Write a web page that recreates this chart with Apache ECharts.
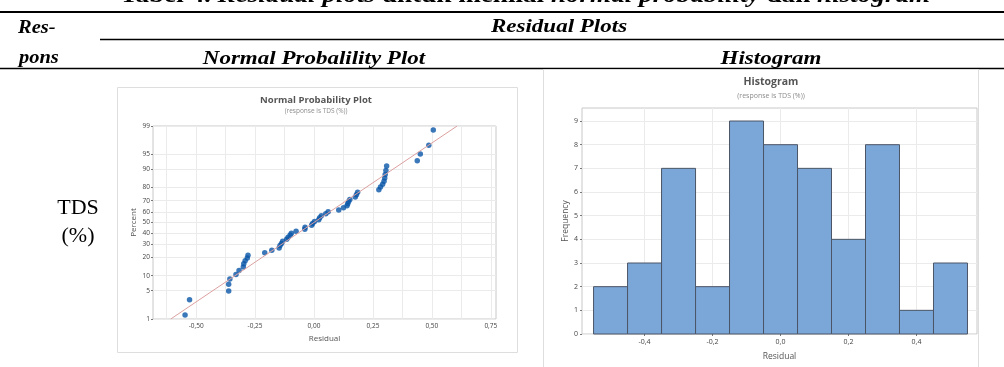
<!DOCTYPE html>
<html>
<head>
<meta charset="utf-8">
<script src="https://cdn.jsdelivr.net/npm/echarts@6/dist/echarts.min.js"></script>
<style>
html,body{margin:0;padding:0;background:#fff;}
#c{width:1004px;height:367px;}
</style>
</head>
<body>
<div id="c"></div>
<script>
// ---------- data ----------
// residuals (sorted)
var residuals = [
  -0.547, -0.528,
  -0.362, -0.362, -0.357,
  -0.331, -0.318, -0.300, -0.298, -0.292, -0.283, -0.280,
  -0.209, -0.179,
  -0.148, -0.144, -0.138, -0.133, -0.116, -0.110, -0.101, -0.096, -0.076,
  -0.039, -0.038, -0.010, -0.006, 0.002, 0.020, 0.024, 0.031,
  0.050, 0.060, 0.105, 0.125, 0.140, 0.143, 0.147,
  0.152, 0.175, 0.180, 0.185,
  0.275, 0.282, 0.291, 0.297, 0.300, 0.302, 0.305, 0.308,
  0.438,
  0.451, 0.487, 0.506
];
var percentTicks = [1, 5, 10, 20, 30, 40, 50, 60, 70, 80, 90, 95, 99];
var npXLabels = [-0.5, -0.25, 0, 0.25, 0.5, 0.75];
var npXGrid = [-0.625, -0.5, -0.375, -0.25, -0.125, 0, 0.125, 0.25, 0.375, 0.5, 0.625, 0.75];

var binEdges = [-0.55, -0.45, -0.35, -0.25, -0.15, -0.05, 0.05, 0.15, 0.25, 0.35, 0.45, 0.55];
var frequency = [2, 3, 7, 2, 9, 8, 7, 4, 8, 1, 3];
var histXTicks = [-0.4, -0.2, 0, 0.2, 0.4];
var histYTicks = [0, 1, 2, 3, 4, 5, 6, 7, 8, 9];

// ---------- helpers ----------
function probit(p) {
  var a = [-3.969683028665376e+01, 2.209460984245205e+02, -2.759285104469687e+02, 1.383577518672690e+02, -3.066479806614716e+01, 2.506628277459239e+00];
  var b = [-5.447609879822406e+01, 1.615858368580409e+02, -1.556989798598866e+02, 6.680131188771972e+01, -1.328068155288572e+01];
  var c = [-7.784894002430293e-03, -3.223964580411365e-01, -2.400758277161838e+00, -2.549732539343734e+00, 4.374664141464968e+00, 2.938163982698783e+00];
  var d = [7.784695709041462e-03, 3.224671290700398e-01, 2.445134137142996e+00, 3.754408661907416e+00];
  var pl = 0.02425, q, r;
  if (p < pl) { q = Math.sqrt(-2 * Math.log(p)); return (((((c[0]*q+c[1])*q+c[2])*q+c[3])*q+c[4])*q+c[5]) / ((((d[0]*q+d[1])*q+d[2])*q+d[3])*q+1); }
  if (p > 1 - pl) { q = Math.sqrt(-2 * Math.log(1 - p)); return -(((((c[0]*q+c[1])*q+c[2])*q+c[3])*q+c[4])*q+c[5]) / ((((d[0]*q+d[1])*q+d[2])*q+d[3])*q+1); }
  q = p - 0.5; r = q * q;
  return (((((a[0]*r+a[1])*r+a[2])*r+a[3])*r+a[4])*r+a[5])*q / (((((b[0]*r+b[1])*r+b[2])*r+b[3])*r+b[4])*r+1);
}
function comma(v, d) { return v.toFixed(d).replace('.', ','); }

var n = residuals.length;
var npPoints = residuals.map(function (r, i) { return [r, probit((i + 1 - 0.3) / (n + 0.4))]; });
var mean = residuals.reduce(function (s, v) { return s + v; }, 0) / n;
var sd = Math.sqrt(residuals.reduce(function (s, v) { return s + (v - mean) * (v - mean); }, 0) / (n - 1));
var zMin = probit(percentTicks[0] / 100), zMax = probit(percentTicks[percentTicks.length - 1] / 100);
var fitLine = [[mean + sd * zMin, zMin], [mean + sd * zMax, zMax]];
var zTicks = percentTicks.map(function (p) { return probit(p / 100); });
var histData = frequency.map(function (f, i) { return [binEdges[i], binEdges[i + 1], f]; });

var UI = 'Open Sans, Noto Sans, sans-serif';
var SERIF = 'Liberation Serif, Times New Roman, serif';
var HS = 19.5, SX = 1.18;
var hdr = { fontFamily: SERIF, fontWeight: 'bold', fontStyle: 'italic', fontSize: HS, fill: '#000' };

function txt(x, y, s, style, align, sx) {
  return { type: 'text', x: x, y: y, scaleX: sx || 1, style: Object.assign({ text: s, textAlign: align || 'center', textVerticalAlign: 'middle' }, style) };
}

var chart = echarts.init(document.getElementById('c'), null, { renderer: 'canvas' });
chart.setOption({
  animation: false,
  backgroundColor: '#fff',
  graphic: { elements: [
    { type: 'text', x: 525, y: -4, scaleX: SX, style: {
      text: '{b|Tabel 4. }{bi|Residual plots}{b| untuk menilai }{bi|normal probability}{b| dan }{bi|histogram}',
      textAlign: 'center', textVerticalAlign: 'middle',
      rich: { b: { fontFamily: SERIF, fontWeight: 'bold', fontSize: 23, color: '#000' },
              bi: { fontFamily: SERIF, fontWeight: 'bold', fontStyle: 'italic', fontSize: 23, color: '#000' } } } },
    { type: 'line', shape: { x1: 0, y1: 12, x2: 1004, y2: 12 }, style: { stroke: '#000', lineWidth: 2 } },
    { type: 'line', shape: { x1: 100, y1: 39.5, x2: 1004, y2: 39.5 }, style: { stroke: '#000', lineWidth: 1.5 } },
    { type: 'line', shape: { x1: 0, y1: 68.5, x2: 1004, y2: 68.5 }, style: { stroke: '#000', lineWidth: 1.5 } },
    txt(18, 27.5, 'Res-', hdr, 'left', 1.05),
    txt(559, 26.5, 'Residual Plots', hdr, 'center', SX),
    txt(19, 58, 'pons', hdr, 'left', 1.05),
    txt(314, 59, 'Normal Probalility Plot', hdr, 'center', SX),
    txt(771, 59, 'Histogram', hdr, 'center', SX),
    txt(78, 208, 'TDS', { fontFamily: SERIF, fontSize: 22, fill: '#000' }),
    txt(78, 236, '(%)', { fontFamily: SERIF, fontSize: 22, fill: '#000' }),
    // chart panels
    { type: 'rect', shape: { x: 117.5, y: 87.5, width: 400, height: 265 }, style: { fill: 'none', stroke: '#dedede', lineWidth: 1 } },
    { type: 'rect', shape: { x: 543.5, y: 69.5, width: 435, height: 310 }, style: { fill: 'none', stroke: '#dedede', lineWidth: 1 } },
    txt(316, 100, 'Normal Probability Plot', { fontFamily: UI, fontWeight: 'bold', fontSize: 9.5, fill: '#555' }),
    txt(316, 111.5, '(response is TDS (%))', { fontFamily: UI, fontSize: 6.5, fill: '#8c8c8c' }),
    txt(771, 82, 'Histogram', { fontFamily: UI, fontWeight: 'bold', fontSize: 10.5, fill: '#555' }),
    txt(771, 96, '(response is TDS (%))', { fontFamily: UI, fontSize: 7, fill: '#8c8c8c' })
  ] },
  grid: [
    { left: 153, top: 126, width: 343, height: 193, show: true, borderColor: '#c8c8c8', borderWidth: 1, backgroundColor: '#fff' },
    { left: 582, top: 108, width: 395, height: 226, show: true, borderColor: '#c8c8c8', borderWidth: 1, backgroundColor: '#fff' }
  ],
  xAxis: [
    { gridIndex: 0, type: 'value', min: -0.683, max: 0.772,
      axisLine: { show: false, onZero: false }, axisTick: { show: false, customValues: npXGrid },
      axisLabel: { customValues: npXLabels, formatter: function (v) { return comma(v, 2); }, fontFamily: UI, fontSize: 6.5, color: '#444', margin: 4 },
      splitLine: { show: true, lineStyle: { color: '#ebebeb', width: 1 } },
      name: 'Residual', nameLocation: 'middle', nameGap: 16, nameTextStyle: { fontFamily: UI, fontSize: 8, color: '#555' } },
    { gridIndex: 1, type: 'value', min: -0.584, max: 0.578,
      axisLine: { show: false, onZero: false }, axisTick: { show: true, length: 2, customValues: histXTicks, lineStyle: { color: '#777' } },
      axisLabel: { customValues: histXTicks, formatter: function (v) { return comma(v, 1); }, fontFamily: UI, fontSize: 7, color: '#444', margin: 4 },
      splitLine: { show: true, lineStyle: { color: '#ebebeb', width: 1 } },
      name: 'Residual', nameLocation: 'middle', nameGap: 18, nameTextStyle: { fontFamily: UI, fontSize: 8.5, color: '#555' } }
  ],
  yAxis: [
    { gridIndex: 0, type: 'value', min: zMin, max: zMax,
      axisLine: { show: false, onZero: false }, axisTick: { show: true, length: 2, customValues: zTicks, lineStyle: { color: '#777' } },
      axisLabel: { customValues: zTicks, fontFamily: UI, fontSize: 6.5, color: '#444', margin: 3,
        formatter: function (v) { for (var i = 0; i < zTicks.length; i++) { if (Math.abs(zTicks[i] - v) < 1e-6) return String(percentTicks[i]); } return ''; } },
      splitLine: { show: true, lineStyle: { color: '#ebebeb', width: 1 } },
      name: 'Percent', nameLocation: 'middle', nameGap: 15, nameTextStyle: { fontFamily: UI, fontSize: 8, color: '#555' } },
    { gridIndex: 1, type: 'value', min: 0, max: 9.55,
      axisLine: { show: false, onZero: false }, axisTick: { show: true, length: 2, customValues: histYTicks, lineStyle: { color: '#777' } },
      axisLabel: { customValues: histYTicks, fontFamily: UI, fontSize: 7, color: '#444', margin: 4 },
      splitLine: { show: true, lineStyle: { color: '#ebebeb', width: 1 } },
      name: 'Frequency', nameLocation: 'middle', nameGap: 12, nameTextStyle: { fontFamily: UI, fontSize: 8.5, color: '#555' } }
  ],
  series: [
    { type: 'line', xAxisIndex: 0, yAxisIndex: 0, data: fitLine, symbol: 'none', silent: true,
      lineStyle: { color: '#dca0a0', width: 1 } },
    { type: 'scatter', xAxisIndex: 0, yAxisIndex: 0, data: npPoints, symbol: 'circle', symbolSize: 5.5,
      itemStyle: { color: '#0a56a8' } },
    { type: 'custom', xAxisIndex: 1, yAxisIndex: 1, data: histData,
      renderItem: function (params, api) {
        var p0 = api.coord([api.value(0), 0]);
        var p1 = api.coord([api.value(1), api.value(2)]);
        return { type: 'rect', shape: { x: p0[0], y: p1[1], width: p1[0] - p0[0], height: p0[1] - p1[1] },
          style: { fill: '#7ba6d8', stroke: '#4b5566', lineWidth: 1 } };
      } }
  ]
});
</script>
</body>
</html>
